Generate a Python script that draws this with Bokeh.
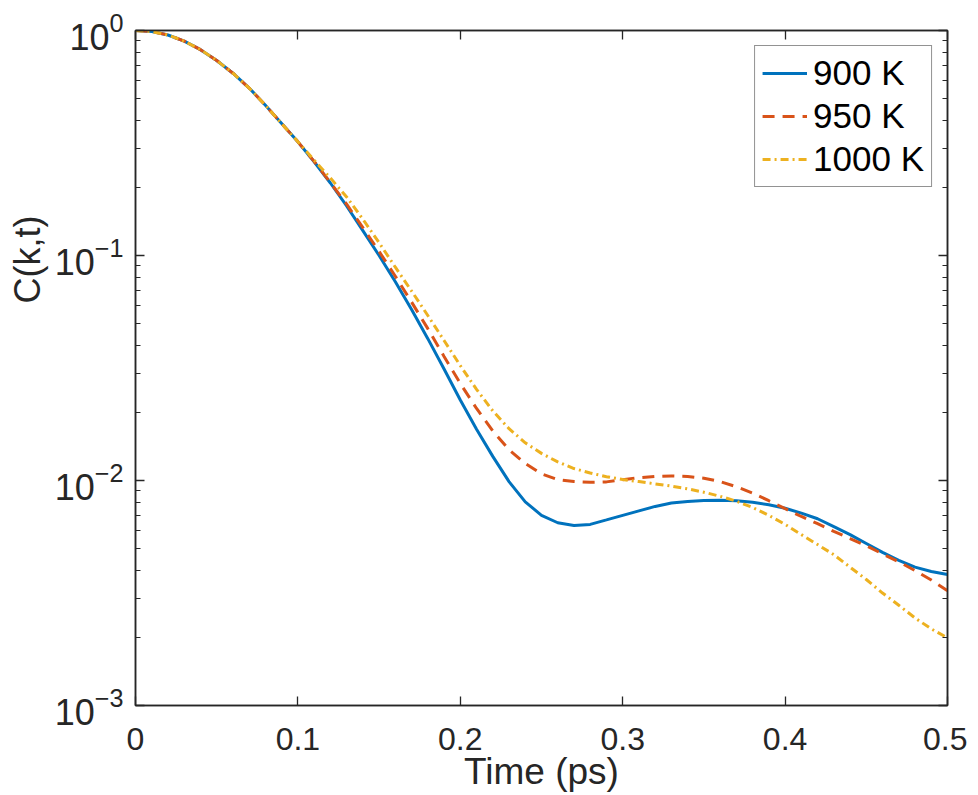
from bokeh.plotting import figure
from bokeh.models import (Range1d, LogAxis, LinearAxis, FixedTicker, CustomJSTickFormatter,
                          Legend, LegendItem, Title, LogTickFormatter)
from bokeh.embed import file_html
from bokeh.resources import INLINE

# ---------------- data ----------------
time_ps = [0.00, 0.01, 0.02, 0.03, 0.04, 0.05, 0.06, 0.07, 0.08, 0.09,
           0.10, 0.11, 0.12, 0.13, 0.14, 0.15, 0.16, 0.17, 0.18, 0.19,
           0.20, 0.21, 0.22, 0.23, 0.24, 0.25, 0.26, 0.27, 0.28, 0.29,
           0.30, 0.31, 0.32, 0.33, 0.34, 0.35, 0.36, 0.37, 0.38, 0.39,
           0.40, 0.41, 0.42, 0.43, 0.44, 0.45, 0.46, 0.47, 0.48, 0.49, 0.50]

c_900 = [1.0, 0.989, 0.955, 0.897, 0.822, 0.736, 0.646, 0.555, 0.465, 0.386,
         0.320, 0.261, 0.210, 0.166, 0.129, 0.100, 0.0764, 0.0575, 0.0427, 0.0313,
         0.0228, 0.0169, 0.0128, 0.00989, 0.00804, 0.00700, 0.00649, 0.00631, 0.00638, 0.00668,
         0.00700, 0.00733, 0.00767, 0.00794, 0.00807, 0.00815, 0.00817, 0.00813, 0.00800, 0.00780,
         0.00753, 0.00716, 0.00676, 0.00624, 0.00575, 0.00525, 0.00479, 0.00442, 0.00412, 0.00394, 0.00382]

c_950 = [1.0, 0.989, 0.955, 0.897, 0.822, 0.736, 0.646, 0.555, 0.465, 0.386,
         0.320, 0.262, 0.211, 0.169, 0.133, 0.1042, 0.0809, 0.0621, 0.0473, 0.0356,
         0.0270, 0.0209, 0.0166, 0.0137, 0.0119, 0.0107, 0.0101, 0.00989, 0.00982, 0.00986,
         0.01007, 0.01028, 0.01042, 0.01047, 0.01042, 0.01023, 0.00989, 0.00938, 0.00879, 0.00813,
         0.00750, 0.00692, 0.00643, 0.00594, 0.00552, 0.00513, 0.00472, 0.00435, 0.00398, 0.00361, 0.00324]

c_1000 = [1.0, 0.989, 0.955, 0.897, 0.822, 0.736, 0.646, 0.555, 0.465, 0.386,
          0.320, 0.265, 0.221, 0.182, 0.145, 0.114, 0.0887, 0.0695, 0.0541, 0.0419,
          0.0324, 0.0254, 0.0204, 0.0170, 0.0147, 0.0132, 0.0121, 0.0113, 0.0108, 0.0104,
          0.0101, 0.00989, 0.00966, 0.00944, 0.00918, 0.00887, 0.00851, 0.00809, 0.00759, 0.00700,
          0.00638, 0.00575, 0.00519, 0.00468, 0.00412, 0.00363, 0.00316, 0.00279, 0.00245, 0.00219, 0.00200]

series_labels = ["900 K", "950 K", "1000 K"]
x_tick_values = [0.0, 0.1, 0.2, 0.3, 0.4, 0.5]
y_tick_values = [0.001, 0.01, 0.1, 1.0]
x_label = "Time (ps)"
y_label = "C(k,t)"

# ---------------- styling ----------------
FONT = "Liberation Sans"
AX = "#262626"
colors = ["#0072BD", "#D95319", "#EDB120"]
dashes = ["solid", "12 8", "8 4 2 4"]

y_minor = [m * e for e in (0.001, 0.01, 0.1) for m in range(2, 10)]

p = figure(frame_width=812, frame_height=675,
           y_axis_type="log",
           x_range=Range1d(0, 0.5), y_range=Range1d(0.001, 1.0),
           output_backend="svg", toolbar_location=None,
           min_border_left=135, min_border_top=30, min_border_right=20, min_border_bottom=10)
p.background_fill_color = "white"
p.border_fill_color = "white"
p.xgrid.visible = False
p.ygrid.visible = False
p.outline_line_color = AX
p.outline_line_width = 1.5

renderers = []
for ys, col, dash in zip([c_900, c_950, c_1000], colors, dashes):
    r = p.line(time_ps, ys, line_color=col, line_width=3, line_dash=dash)
    renderers.append(r)

xt = FixedTicker(ticks=x_tick_values, minor_ticks=[])
yt = FixedTicker(ticks=y_tick_values, minor_ticks=y_minor)

def style_axis(ax):
    ax.axis_line_color = AX
    ax.axis_line_width = 1.5
    ax.major_tick_line_color = AX
    ax.major_tick_line_width = 1.3
    ax.minor_tick_line_color = AX
    ax.minor_tick_line_width = 1.2
    ax.major_tick_out = 0
    ax.minor_tick_out = 0
    ax.major_label_text_color = AX
    ax.major_label_text_font = FONT

xa = p.xaxis[0]
xa.ticker = xt
xa.formatter = CustomJSTickFormatter(code="return (Math.round(tick*10)/10).toString();")
style_axis(xa)
xa.major_tick_in = 9
xa.major_label_text_font_size = "32px"
xa.major_label_standoff = 22
xa.axis_label = x_label
xa.axis_label_text_font = FONT
xa.axis_label_text_font_size = "37px"
xa.axis_label_text_font_style = "normal"
xa.axis_label_text_color = AX
xa.axis_label_standoff = -2

ya = p.yaxis[0]
ya.ticker = yt
ya.formatter = LogTickFormatter()
style_axis(ya)
ya.major_tick_in = 9
ya.minor_tick_in = 5
ya.major_label_text_font_size = "36px"
ya.major_label_standoff = 12

blank = CustomJSTickFormatter(code="return '';")
top = LinearAxis(ticker=xt, formatter=blank)
style_axis(top)
top.major_tick_in = 9
top.major_label_text_font_size = "0px"
top.major_label_standoff = 0
p.add_layout(top, "above")

right = LogAxis(ticker=yt, formatter=blank)
style_axis(right)
right.major_tick_in = 9
right.minor_tick_in = 5
right.major_label_text_font_size = "0px"
right.major_label_standoff = 0
p.add_layout(right, "right")

ytitle = Title(text=y_label, align="right", offset=185, text_font=FONT, text_font_size="36px",
               text_font_style="normal", text_color=AX, standoff=8)
p.add_layout(ytitle, "left")

legend = Legend(items=[LegendItem(label=l, renderers=[r]) for l, r in zip(series_labels, renderers)],
                location="top_right")
legend.margin = 15
legend.padding = 7
legend.spacing = 3
legend.glyph_width = 45
legend.glyph_height = 20
legend.label_standoff = 6
legend.label_text_font = FONT
legend.label_text_font_size = "35px"
legend.label_text_color = "black"
legend.border_line_color = AX
legend.border_line_width = 1.2
legend.background_fill_color = "white"
legend.background_fill_alpha = 1.0
p.add_layout(legend)

open("out.html", "w").write(file_html(p, INLINE))
